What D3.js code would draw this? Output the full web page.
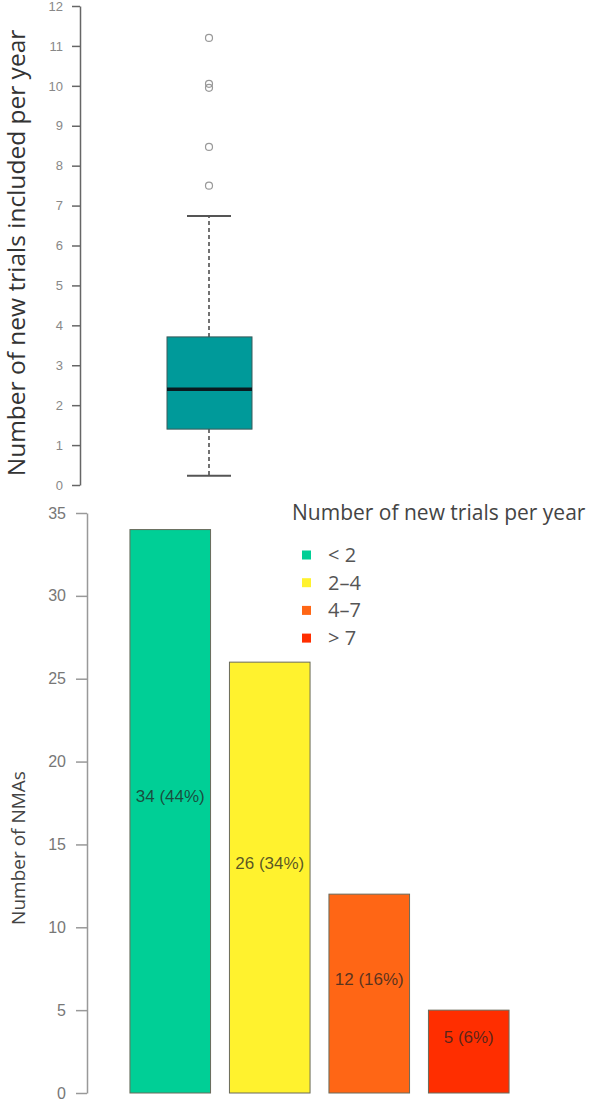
<!DOCTYPE html>
<html>
<head>
<meta charset="utf-8">
<script src="https://cdn.jsdelivr.net/npm/d3@7"></script>
<style>
  body { margin: 0; background: #fff; }
  svg { font-family: "Liberation Sans", Arial, sans-serif; display: block; }
</style>
</head>
<body>
<svg id="chart" width="597" height="1103"></svg>
<script>
// box plot summary (new trials included per year)
const boxStats = { low: 0.23, q1: 1.4, median: 2.4, q3: 3.71, high: 6.74 };
const outliers = [11.2, 10.05, 9.95, 8.47, 7.5];
const topTicks = d3.range(0, 13);

// bar chart
const categories = ["< 2", "2\u20134", "4\u20137", "> 7"];
const counts = [34, 26, 12, 5];
const percents = [44, 34, 16, 6];
const colors = ["#00cf96", "#fff22e", "#ff6615", "#ff2e00"];
const bottomTicks = [0, 5, 10, 15, 20, 25, 30, 35];

const svg = d3.select("#chart");

// ---- top: box plot ----
const y1 = d3.scaleLinear().domain([0, 12]).range([485, 6]);
const cx = 209;

svg.append("g")
    .attr("transform", "translate(80,0)")
    .call(d3.axisLeft(y1).tickValues(topTicks).tickSize(8).tickPadding(9).tickSizeOuter(0))
    .call(g => g.select(".domain").attr("stroke", "#666").attr("stroke-width", 1.5))
    .call(g => g.selectAll(".tick line").attr("stroke", "#666").attr("stroke-width", 1.5))
    .call(g => g.selectAll(".tick text").attr("fill", "#888").attr("font-size", 13));

svg.append("text")
    .attr("transform", `translate(25,253) rotate(-90)`)
    .attr("text-anchor", "middle")
    .attr("font-family", "'Open Sans', sans-serif")
    .attr("font-size", 24.5)
    .attr("fill", "#333")
    .text("Number of new trials included per year");

// whiskers
svg.append("line")
    .attr("x1", cx).attr("x2", cx)
    .attr("y1", y1(boxStats.q3)).attr("y2", y1(boxStats.high))
    .attr("stroke", "#444").attr("stroke-width", 1.5).attr("stroke-dasharray", "4,3");
svg.append("line")
    .attr("x1", cx).attr("x2", cx)
    .attr("y1", y1(boxStats.q1)).attr("y2", y1(boxStats.low))
    .attr("stroke", "#444").attr("stroke-width", 1.5).attr("stroke-dasharray", "4,3");
[boxStats.high, boxStats.low].forEach(v => {
  svg.append("line")
      .attr("x1", cx - 22).attr("x2", cx + 22)
      .attr("y1", y1(v)).attr("y2", y1(v))
      .attr("stroke", "#555").attr("stroke-width", 2);
});

svg.append("rect")
    .attr("x", cx - 42).attr("width", 85)
    .attr("y", y1(boxStats.q3))
    .attr("height", y1(boxStats.q1) - y1(boxStats.q3))
    .attr("fill", "#009a9a")
    .attr("stroke", "#3a5a5a").attr("stroke-width", 1);

svg.append("line")
    .attr("x1", cx - 42).attr("x2", cx + 43)
    .attr("y1", y1(boxStats.median)).attr("y2", y1(boxStats.median))
    .attr("stroke", "#0a1a1f").attr("stroke-width", 3.5);

svg.append("g").selectAll("circle")
    .data(outliers)
    .enter()
    .append("circle")
    .attr("cx", cx)
    .attr("cy", d => y1(d))
    .attr("r", 3.5)
    .attr("fill", "none")
    .attr("stroke", "#999")
    .attr("stroke-width", 1.2);

// ---- bottom: bar chart ----
const y2 = d3.scaleLinear().domain([0, 35]).range([1093, 513]);
const x2 = d3.scaleBand().domain(categories).range([120, 519]).paddingInner(0.19).paddingOuter(0.1);

svg.append("g")
    .attr("transform", "translate(87,0)")
    .call(d3.axisLeft(y2).tickValues(bottomTicks).tickSize(11).tickPadding(10).tickSizeOuter(0))
    .call(g => g.select(".domain").attr("stroke", "#999").attr("stroke-width", 1.5))
    .call(g => g.selectAll(".tick line").attr("stroke", "#999").attr("stroke-width", 1.5))
    .call(g => g.selectAll(".tick text").attr("fill", "#777").attr("font-size", 16));

svg.append("text")
    .attr("transform", `translate(25,848) rotate(-90)`)
    .attr("text-anchor", "middle")
    .attr("font-family", "'Open Sans', sans-serif")
    .attr("font-size", 19)
    .attr("fill", "#444")
    .text("Number of NMAs");

const bars = svg.append("g");
bars.selectAll("rect")
    .data(counts)
    .enter()
    .append("rect")
    .attr("x", (d, i) => x2(categories[i]))
    .attr("width", x2.bandwidth())
    .attr("y", d => y2(d))
    .attr("height", d => y2(0) - y2(d))
    .attr("fill", (d, i) => colors[i])
    .attr("stroke", "#6a6a5a")
    .attr("stroke-width", 1);

bars.selectAll("text")
    .data(counts)
    .enter()
    .append("text")
    .attr("x", (d, i) => x2(categories[i]) + x2.bandwidth() / 2)
    .attr("y", d => y2(d / 2 + 0.9))
    .attr("dy", "0.35em")
    .attr("text-anchor", "middle")
    .attr("font-size", 17)
    .attr("fill", "#222")
    .attr("fill-opacity", 0.75)
    .text((d, i) => `${d} (${percents[i]}%)`);

// legend
const legend = svg.append("g");
legend.append("text")
    .attr("x", 292).attr("y", 513)
    .attr("dy", "0.35em")
    .attr("font-family", "'Open Sans', sans-serif")
    .attr("font-size", 21)
    .attr("fill", "#444")
    .text("Number of new trials per year");

const items = legend.selectAll("g.item")
    .data(categories)
    .enter()
    .append("g")
    .attr("class", "item")
    .attr("transform", (d, i) => `translate(302,${555 + i * 27.7})`);
items.append("rect")
    .attr("x", 0).attr("y", -4.5)
    .attr("width", 9).attr("height", 9)
    .attr("fill", (d, i) => colors[i]);
items.append("text")
    .attr("x", 26).attr("dy", "0.35em")
    .attr("font-family", "'Open Sans', sans-serif")
    .attr("font-size", 20)
    .attr("fill", "#555")
    .text(d => d);
</script>
</body>
</html>
